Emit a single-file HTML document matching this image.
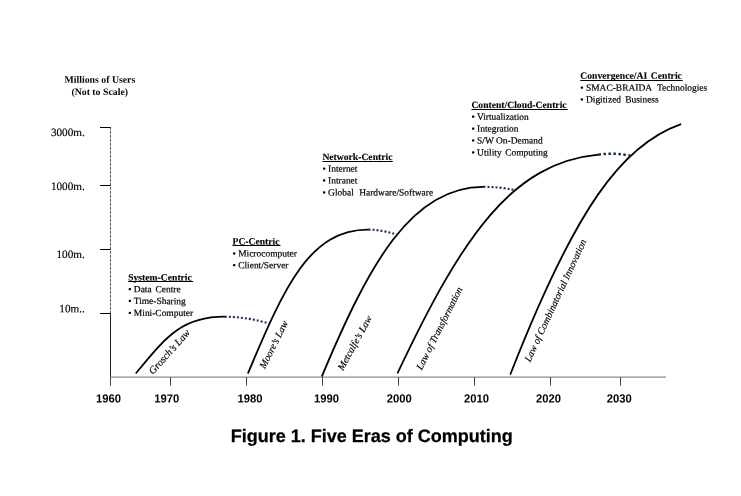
<!DOCTYPE html>
<html><head><meta charset="utf-8"><title>Figure 1. Five Eras of Computing</title>
<style>
html,body{margin:0;padding:0;background:#fff;}
svg{display:block}
text{font-family:"Liberation Serif","Times New Roman",serif;fill:#000}
.cv{fill:none;stroke:#000;stroke-width:1.8;stroke-linecap:round}
.dt{fill:none;stroke:#1a2f5c;stroke-width:2.1;stroke-dasharray:2 2;stroke-dashoffset:-0.3}
.d4{stroke-width:2.5;stroke-dasharray:2.5 2.45;stroke-dashoffset:0}
.eh{font-weight:bold;font-size:9.65px;stroke:#000;stroke-width:0.12px}
.eb{font-size:9.45px;stroke:#000;stroke-width:0.2px}
.ul{stroke:#000;stroke-width:1}
.yl{font-size:11.2px;stroke:#000;stroke-width:0.15px}
.tk{stroke:#000;stroke-width:1}
.xtk{stroke:#444;stroke-width:1}
.xl{font-family:"Liberation Sans",Arial,sans-serif;font-weight:bold;font-size:11.8px}
.it{font-style:italic;font-size:10.5px;stroke:#000;stroke-width:0.15px}
.ttl{font-family:"Liberation Sans",Arial,sans-serif;font-weight:bold;font-size:18px;stroke:#000;stroke-width:0.25px}
.ax{font-weight:bold;font-size:9.8px}
</style></head><body>
<svg width="741" height="496" viewBox="0 0 741 496">
<rect width="741" height="496" fill="#fff"/>
<line x1="110.5" y1="127" x2="110.5" y2="313" stroke="#333" stroke-width="0.8" stroke-dasharray="3 1"/>
<line x1="110.5" y1="313" x2="110.5" y2="385.6" stroke="#222" stroke-width="1"/>
<line x1="110" y1="377.1" x2="666" y2="377.1" stroke="#8e8e8e" stroke-width="1.4"/>
<path d="M136.3,372.8 C164.7,338.7 180.6,316.7 224.6,316.7" class="cv"/>
<path d="M248.2,372.8 C284.8,285.5 310.0,229.6 368.2,229.6" class="cv"/>
<path d="M322.1,375.8 C369.1,263.7 411.4,186.8 483.2,186.8" class="cv"/>
<path d="M397.8,372.7 C462.5,235.5 512.2,162.8 598.6,154.7" class="cv"/>
<path d="M510.5,374.0 C575.4,208.1 622.1,144.8 680.4,124.3" class="cv"/>
<path d="M224.6,316.7 C240.0,316.7 257.0,319.7 268.5,323.3" class="dt"/>
<path d="M368.2,229.6 C378.0,229.6 388.0,231.8 396.5,234.5" class="dt"/>
<path d="M483.2,186.8 C494.0,186.8 505.0,188.0 514.4,189.9" class="dt"/>
<path d="M598.6,154.7 C609.0,153.0 622.0,153.6 630.6,155.9" class="dt d4"/>
<line x1="100" y1="127.5" x2="110.5" y2="127.5" class="tk"/>
<line x1="100" y1="185.5" x2="110.5" y2="185.5" class="tk"/>
<line x1="100" y1="249.5" x2="110.5" y2="249.5" class="tk"/>
<line x1="100" y1="313.5" x2="110.5" y2="313.5" class="tk"/>
<line x1="110.5" y1="377" x2="110.5" y2="385.6" class="xtk"/>
<line x1="170.5" y1="377" x2="170.5" y2="385.6" class="xtk"/>
<line x1="246.5" y1="377" x2="246.5" y2="385.6" class="xtk"/>
<line x1="322.5" y1="377" x2="322.5" y2="385.6" class="xtk"/>
<line x1="398.5" y1="377" x2="398.5" y2="385.6" class="xtk"/>
<line x1="474.5" y1="377" x2="474.5" y2="385.6" class="xtk"/>
<line x1="550.5" y1="377" x2="550.5" y2="385.6" class="xtk"/>
<line x1="620.5" y1="377" x2="620.5" y2="385.6" class="xtk"/>
<text transform="translate(128.20,280.40) rotate(0.04)" class="eh">System-Centric</text>
<line x1="128.2" y1="281.5" x2="193.1" y2="281.5" class="ul"/>
<text transform="translate(128.20,292.25) rotate(0.04)" class="eb">• Data<tspan dx="1.4"> Centre</tspan></text>
<text transform="translate(128.20,304.10) rotate(0.04)" class="eb">• Time-Sharing</text>
<text transform="translate(128.20,315.95) rotate(0.04)" class="eb">• Mini-Computer</text>
<text transform="translate(232.50,244.60) rotate(0.04)" class="eh">PC-Centric</text>
<line x1="232.5" y1="245.5" x2="280.5" y2="245.5" class="ul"/>
<text transform="translate(232.50,256.45) rotate(0.04)" class="eb">• Microcomputer</text>
<text transform="translate(232.50,268.30) rotate(0.04)" class="eb">• Client/Server</text>
<text transform="translate(322.40,159.90) rotate(0.04)" class="eh">Network-Centric</text>
<line x1="322.4" y1="161.5" x2="392.8" y2="161.5" class="ul"/>
<text transform="translate(322.40,171.75) rotate(0.04)" class="eb">• Internet</text>
<text transform="translate(322.40,183.60) rotate(0.04)" class="eb">• Intranet</text>
<text transform="translate(322.40,195.45) rotate(0.04)" class="eb">• Global<tspan dx="3.1"> Hardware/Software</tspan></text>
<text transform="translate(471.40,108.00) rotate(0.04)" class="eh">Content/Cloud-Centric</text>
<line x1="471.4" y1="109.5" x2="567.7" y2="109.5" class="ul"/>
<text transform="translate(471.40,119.85) rotate(0.04)" class="eb">• Virtualization</text>
<text transform="translate(471.40,131.70) rotate(0.04)" class="eb">• Integration</text>
<text transform="translate(471.40,143.55) rotate(0.04)" class="eb">• S/W On-Demand</text>
<text transform="translate(471.40,155.40) rotate(0.04)" class="eb">• Utility<tspan dx="1.2"> Computing</tspan></text>
<text transform="translate(580.30,78.80) rotate(0.04)" class="eh">Convergence/AI<tspan dx="1.3"> Centric</tspan></text>
<line x1="580.3" y1="80.5" x2="682.7" y2="80.5" class="ul"/>
<text transform="translate(580.30,90.65) rotate(0.04)" class="eb">• SMAC-BRAIDA<tspan dx="3.3"> Technologies</tspan></text>
<text transform="translate(580.30,102.50) rotate(0.04)" class="eb">• Digitized<tspan dx="1.7"> Business</tspan></text>
<text transform="translate(84.80,136.10) rotate(0.04)" class="yl" text-anchor="end">3000m.</text>
<text transform="translate(84.80,190.00) rotate(0.04)" class="yl" text-anchor="end">1000m.</text>
<text transform="translate(84.80,258.10) rotate(0.04)" class="yl" text-anchor="end">100m.</text>
<text transform="translate(84.80,312.30) rotate(0.04)" class="yl" text-anchor="end">10m..</text>
<text transform="translate(108.40,402.50) rotate(0.04)" class="xl" text-anchor="middle" textLength="25" lengthAdjust="spacingAndGlyphs">1960</text>
<text transform="translate(166.80,402.50) rotate(0.04)" class="xl" text-anchor="middle" textLength="25" lengthAdjust="spacingAndGlyphs">1970</text>
<text transform="translate(250.00,402.50) rotate(0.04)" class="xl" text-anchor="middle" textLength="25" lengthAdjust="spacingAndGlyphs">1980</text>
<text transform="translate(326.60,402.50) rotate(0.04)" class="xl" text-anchor="middle" textLength="25" lengthAdjust="spacingAndGlyphs">1990</text>
<text transform="translate(399.20,402.50) rotate(0.04)" class="xl" text-anchor="middle" textLength="25" lengthAdjust="spacingAndGlyphs">2000</text>
<text transform="translate(476.40,402.50) rotate(0.04)" class="xl" text-anchor="middle" textLength="25" lengthAdjust="spacingAndGlyphs">2010</text>
<text transform="translate(548.50,402.50) rotate(0.04)" class="xl" text-anchor="middle" textLength="25" lengthAdjust="spacingAndGlyphs">2020</text>
<text transform="translate(619.30,402.50) rotate(0.04)" class="xl" text-anchor="middle" textLength="25" lengthAdjust="spacingAndGlyphs">2030</text>
<text transform="translate(153.0,375.0) rotate(-48.0)" class="it" style="font-size:10.3px">Grosch’s Law</text>
<text transform="translate(265.0,369.3) rotate(-63.3)" class="it" style="font-size:10px">Moore’s Law</text>
<text transform="translate(342.9,371.1) rotate(-61.1)" class="it" style="font-size:10px">Metcalfe’s Law</text>
<text transform="translate(421.7,370.4) rotate(-63.2)" class="it" style="font-size:9.9px">Law of Transformation</text>
<text transform="translate(530.2,362.6) rotate(-65.1)" class="it" style="font-size:9.95px">Law of Combinatorial Innovation</text>
<text transform="translate(99.90,82.80) rotate(0.04)" class="ax" text-anchor="middle">Millions of Users</text>
<text transform="translate(99.70,94.90) rotate(0.04)" class="ax" text-anchor="middle">(Not to Scale)</text>
<text transform="translate(371.80,442.00) rotate(0.04)" class="ttl" text-anchor="middle">Figure 1. Five Eras of Computing</text>
</svg>
</body></html>
